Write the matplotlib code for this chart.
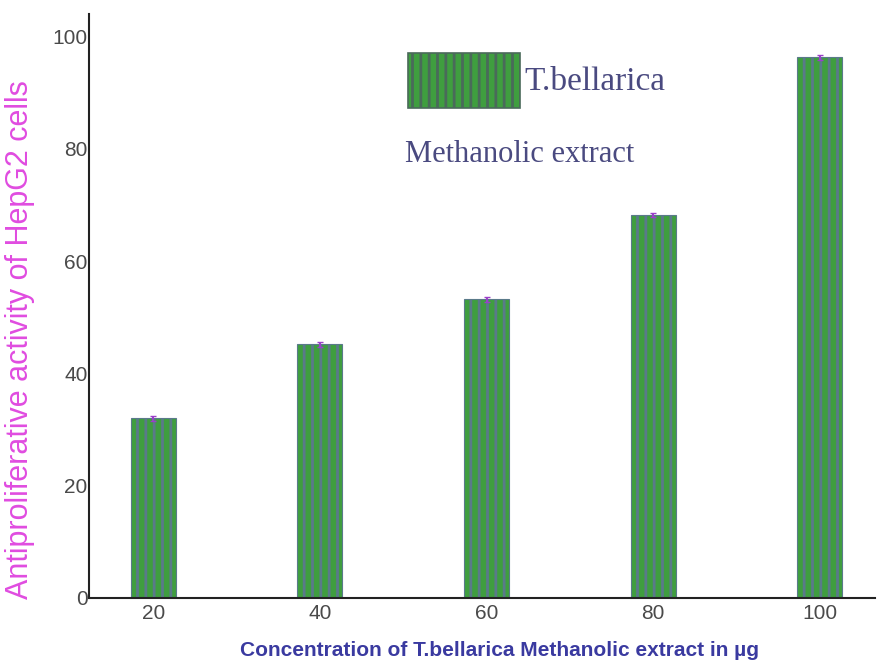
import numpy as np
import matplotlib
matplotlib.use('Agg')
import matplotlib.pyplot as plt
from matplotlib.patches import Rectangle

concentrations = [20, 40, 60, 80, 100]
activity       = [32.0, 45.2, 53.2, 68.2, 96.3]
errors         = [0.4, 0.4, 0.5, 0.4, 0.4]
yticks         = [0, 20, 40, 60, 80, 100]

GREEN  = '#3f9e3f'
STRIPE = '#347f3e'
EDGE   = '#5a7a8a'

plt.rcParams['hatch.color'] = STRIPE
plt.rcParams['hatch.linewidth'] = 2.0

fig = plt.figure(figsize=(8.83, 6.64), dpi=100)
ax = fig.add_axes([0.1008, 0.0994, 0.890, 0.880])

ax.bar(concentrations, activity, width=5.4, color=GREEN, edgecolor=EDGE,
       linewidth=0.8, hatch='||', zorder=2)
ax.errorbar(concentrations, activity, yerr=errors, fmt='none',
            ecolor='#9a40c8', elinewidth=1.5, capsize=2, capthick=1.0, zorder=3)

ax.set_xlim(12.3, 106.6)
ax.set_ylim(0, 104.1)
ax.set_xticks(concentrations)
ax.set_yticks(yticks)
ax.tick_params(length=0, labelsize=15, labelcolor='#4a4a4a', pad=1)
ax.tick_params(axis='x', pad=4)
for lbl in ax.get_xticklabels() + ax.get_yticklabels():
    lbl.set_family('Liberation Sans')
ax.spines[['top', 'right']].set_visible(False)
for s in ['left', 'bottom']:
    ax.spines[s].set_linewidth(1.5)
    ax.spines[s].set_color('#222222')

# axis titles placed directly in figure coords
fig.text(20 / 883, 1 - 340 / 664, 'Antiproliferative activity of HepG2 cells',
         fontsize=22, color='#e04ce0', family='Liberation Sans',
         rotation=90, ha='center', va='center')
fig.text(500 / 883, 1 - 650 / 664,
         'Concentration of T.bellarica Methanolic extract in \u00b5g',
         fontsize=15, color='#3a3aa0', family='Liberation Sans',
         fontweight='bold', ha='center', va='center')

# legend-like box drawn in figure coords
fig.patches.append(Rectangle((408 / 883, 1 - 108 / 664), 112 / 883, 55 / 664,
                             transform=fig.transFigure, facecolor=GREEN,
                             edgecolor='#4a6a5a', linewidth=1.2, hatch='||'))
fig.text(524 / 883, 1 - 82 / 664, 'T.bellarica', fontsize=24, color='#4a4a80',
         family='Liberation Serif', va='center')
fig.text(405 / 883, 1 - 155 / 664, 'Methanolic extract', fontsize=22,
         color='#4a4a80', family='Liberation Serif', va='center')

fig.savefig('out.png', dpi=100)
